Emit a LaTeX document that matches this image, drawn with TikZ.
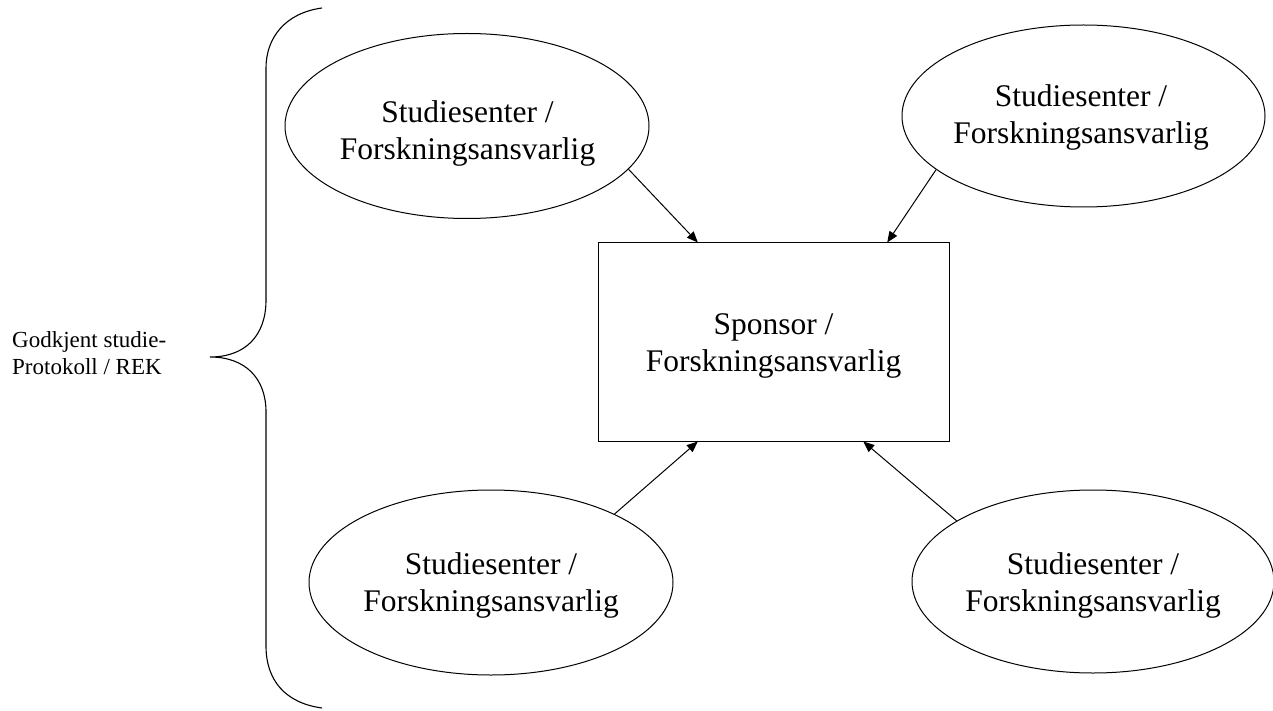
\documentclass[tikz,border=0pt]{standalone}
\usepackage{fontspec}
\setmainfont{Liberation Serif}
\usetikzlibrary{arrows.meta,shapes.geometric,calc}
\begin{document}
\begin{tikzpicture}[x=1pt,y=-1pt,
  ell/.style={draw,ellipse,line width=1pt,inner sep=0pt},
  box/.style={draw,rectangle,line width=1pt,minimum width=351pt,minimum height=198pt,inner sep=0pt},
  big/.style={font=\fontsize{31.5}{37}\selectfont,align=center,inner sep=0pt},
  small/.style={font=\fontsize{23}{27}\selectfont,align=left,inner sep=0pt},
  arr/.style={-{Triangle[length=11pt,width=9pt]},line width=1pt},
  bracestyle/.style={line width=1.1pt}]
\useasboundingbox (0,0) rectangle (1273,711);

% central box
\node[box] (sp) at (773.5,342) {};
\node[big] (spt) at (773.5,346.3) {Sponsor /\\Forskningsansvarlig};

% ellipses
\node[ell,minimum width=364pt,minimum height=185pt] (tl) at (467,126) {};
\node[ell,minimum width=363pt,minimum height=182pt] (tr) at (1083.5,116) {};
\node[ell,minimum width=364pt,minimum height=185pt] (bl) at (491,582.5) {};
\node[ell,minimum width=362pt,minimum height=183pt] (br) at (1093,581.5) {};

\node[big] (t1) at (467.5,133.3) {Studiesenter /\\Forskningsansvarlig};
\node[big] (t2) at (1081,117.3) {Studiesenter /\\Forskningsansvarlig};
\node[big] (t3) at (491,585.3) {Studiesenter /\\Forskningsansvarlig};
\node[big] (t4) at (1093,585.3) {Studiesenter /\\Forskningsansvarlig};

% arrows
\draw[arr] (tl.-15.6) -- ($(sp.north west)!0.285!(sp.north east)$);
\draw[arr] (tr.-160.4) -- ($(sp.north west)!0.823!(sp.north east)$);
\draw[arr] (bl.29.7) -- ($(sp.south west)!0.285!(sp.south east)$);
\draw[arr] (br.156.8) -- ($(sp.south west)!0.755!(sp.south east)$);

% brace
\draw[bracestyle] (322,8) .. controls (285,13) and (266,38) .. (266,68)
  -- (266,300) .. controls (266,336) and (245,357) .. (210,357)
  .. controls (245,357) and (266,378) .. (266,412)
  -- (266,646) .. controls (266,680) and (285,703) .. (322,708);

% label
\node[small,anchor=west] (lab) at (12,352.8) {Godkjent studie-\\Protokoll / REK};
\end{tikzpicture}
\end{document}
